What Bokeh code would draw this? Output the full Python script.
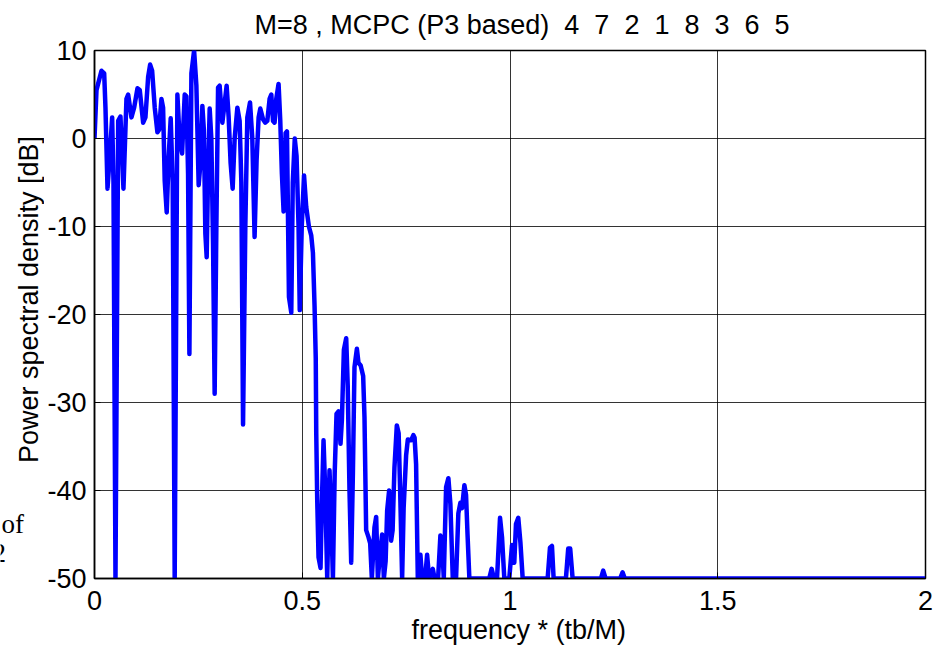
from math import pi

from bokeh.plotting import figure
from bokeh.layouts import row
from bokeh.models import FixedTicker, Range1d, Title
from bokeh.core.properties import value
from bokeh.embed import file_html
from bokeh.resources import INLINE

# Normalised frequency (tb/M) and power spectral density in dB
freq = [0.0, 0.0048, 0.0168, 0.0233, 0.0264, 0.0313, 0.0368, 0.0425, 0.0457, 0.0505,
        0.057, 0.0625, 0.0697, 0.0769, 0.081, 0.0889, 0.0954, 0.1034, 0.1089, 0.1171,
        0.1226, 0.1291, 0.1339, 0.1387, 0.145, 0.1514, 0.1555, 0.1611, 0.1651, 0.169,
        0.1738, 0.1786, 0.1834, 0.1882, 0.193, 0.1995, 0.205, 0.2108, 0.2171, 0.2212,
        0.2252, 0.2284, 0.2332, 0.2397, 0.2452, 0.2507, 0.2555, 0.2596, 0.2632, 0.2668,
        0.27, 0.2733, 0.2772, 0.2812, 0.2853, 0.2892, 0.2933, 0.2974, 0.3012, 0.3077,
        0.3132, 0.318, 0.3228, 0.3276, 0.3325, 0.3373, 0.3438, 0.3493, 0.3534, 0.3575,
        0.363, 0.3678, 0.3743, 0.3798, 0.3853, 0.3901, 0.395, 0.399, 0.4055, 0.4111,
        0.4159, 0.4214, 0.4255, 0.4296, 0.4334, 0.4375, 0.443, 0.4471, 0.451, 0.4551,
        0.4599, 0.4632, 0.468, 0.4736, 0.4772, 0.482, 0.4863, 0.4911, 0.494, 0.4988,
        0.5043, 0.5096, 0.516, 0.5216, 0.5257, 0.5296, 0.5325, 0.5337, 0.536, 0.5392,
        0.544, 0.5469, 0.5512, 0.5553, 0.5601, 0.5656, 0.5697, 0.5738, 0.5781, 0.5825,
        0.5873, 0.5921, 0.5954, 0.6002, 0.6058, 0.6094, 0.6137, 0.6178, 0.6219, 0.6257,
        0.6315, 0.6354, 0.6406, 0.6466, 0.6498, 0.6538, 0.6594, 0.6635, 0.6675, 0.6738,
        0.6779, 0.682, 0.6875, 0.6923, 0.6964, 0.7007, 0.7043, 0.7091, 0.7139, 0.7175,
        0.7219, 0.7276, 0.732, 0.7356, 0.7404, 0.744, 0.75, 0.7541, 0.762, 0.7675,
        0.7704, 0.774, 0.7781, 0.7844, 0.7885, 0.7957, 0.8005, 0.8053, 0.8101, 0.8142,
        0.8185, 0.8269, 0.8325, 0.8365, 0.8406, 0.8462, 0.8517, 0.8565, 0.8623, 0.8702,
        0.8757, 0.8805, 0.8846, 0.8902, 0.8942, 0.8978, 0.9022, 0.95, 0.9558, 0.9615,
        0.9688, 0.976, 0.9808, 0.9863, 0.9983, 1.0048, 1.0103, 1.0144, 1.0199, 1.0252,
        1.0305, 1.0906, 1.0962, 1.101, 1.105, 1.1346, 1.1401, 1.1449, 1.1507, 1.2188,
        1.2243, 1.23, 1.2651, 1.2709, 1.2764, 2.0]

psd_db = [0.0, 5.5, 7.7, 7.4, 3.5, -5.7, -2.0, 2.4, -5.0, -50.0,
          2.0, 2.5, -5.7, 4.5, 5.0, 2.4, 3.5, 5.7, 5.5, 1.8,
          2.4, 7.0, 8.4, 7.7, 3.5, 0.7, 1.0, 4.5, 3.5, -4.8,
          -8.4, -2.0, 2.3, -5.0, -50.0, 5.0, -0.2, -1.7, 5.0, 4.8,
          -4.0, -24.5, 7.4, 10.0, 6.0, -5.3, -2.5, 3.7, 1.0, -10.8,
          -13.5, -4.0, 3.4, 0.0, -12.0, -29.0, -10.0, 5.8, 6.0, 1.8,
          4.0, 6.0, 2.5, -2.8, -5.7, 0.0, 3.5, 2.0, -5.0, -32.5,
          -10.0, 2.4, 4.1, 0.0, -11.2, -2.5, 2.4, 3.4, 2.2, 1.8,
          2.0, 4.5, 5.0, 2.0, 1.8, 4.5, 6.2, 2.0, -4.0, -8.3,
          0.6, 0.8, -18.0, -19.8, -5.0, 0.0, -2.0, -10.0, -19.5, -10.0,
          -4.2, -7.8, -10.0, -11.0, -13.0, -19.0, -25.0, -33.5, -41.0, -47.6,
          -48.8, -42.0, -34.3, -40.0, -50.0, -37.7, -43.0, -50.0, -38.0, -31.3,
          -31.0, -34.7, -32.0, -24.0, -22.7, -28.0, -40.0, -48.2, -38.0, -26.0,
          -23.9, -25.5, -25.8, -27.0, -31.7, -44.5, -45.3, -46.0, -50.0, -44.2,
          -43.0, -50.0, -47.0, -45.0, -50.0, -48.0, -42.3, -40.0, -45.7, -44.5,
          -37.4, -32.6, -33.5, -40.0, -50.0, -42.0, -36.0, -34.2, -34.3, -33.7,
          -34.0, -37.0, -50.0, -47.3, -50.0, -50.0, -47.3, -50.0, -49.5, -48.9,
          -50.0, -50.0, -45.1, -46.0, -50.0, -39.6, -38.6, -41.5, -50.0, -50.0,
          -42.6, -41.4, -42.0, -39.4, -40.5, -45.0, -50.0, -50.0, -48.9, -50.0,
          -50.0, -43.1, -45.3, -50.0, -50.0, -46.2, -48.2, -43.8, -43.1, -46.0,
          -50.0, -50.0, -46.5, -46.3, -50.0, -50.0, -46.6, -46.6, -50.0, -50.0,
          -49.1, -50.0, -50.0, -49.3, -50.0, -50.0]

x_ticks = [0, 0.5, 1, 1.5, 2]
x_tick_labels = ["0", "0.5", "1", "1.5", "2"]
y_ticks = [-50, -40, -30, -20, -10, 0, 10]
y_tick_labels = ["-50", "-40", "-30", "-20", "-10", "0", "10"]

title_text = "M=8 , MCPC (P3 based)\u00a0\u00a04\u00a0\u00a07\u00a0\u00a02\u00a0\u00a01\u00a0\u00a08\u00a0\u00a03\u00a0\u00a06\u00a0\u00a05"
x_label = "frequency * (tb/M)"
y_label = "Power spectral density [dB]"

FONT = "Liberation Sans"
FS = "27px"
W, H = 941, 654
LEFT_W = 44
TOP, BOTTOM = 50, 76

# ---- narrow strip on the left: y-axis title and stray page text -------------
# Its frame shares the vertical extent of the main frame; y is measured in
# pixels from the bottom of the page.
side = figure(width=LEFT_W, height=H, output_backend="svg", toolbar_location=None,
              x_range=Range1d(0, LEFT_W), y_range=Range1d(BOTTOM, H - TOP),
              x_axis_location=None, y_axis_location=None,
              min_border_left=0, min_border_right=0,
              min_border_top=TOP, min_border_bottom=BOTTOM,
              outline_line_color=None, background_fill_color="white",
              border_fill_color="white")
side.grid.visible = False
side.text(x=[28], y=[355], text=[y_label], angle=pi / 2, text_align="center",
          text_baseline="middle", text_font=value(FONT), text_font_size=FS,
          text_color="black")
side.text(x=[1, -8], y=[131, 102], text=["of", "2"], text_align="left",
          text_baseline="alphabetic", text_font=value("Liberation Serif"),
          text_font_size="27px", text_color="black")

# ---- main spectrum plot ------------------------------------------------------
p = figure(width=W - LEFT_W, height=H, output_backend="svg", toolbar_location=None,
           x_range=Range1d(0, 2), y_range=Range1d(-50, 10),
           min_border_left=93 - LEFT_W, min_border_right=16, min_border_top=TOP,
           min_border_bottom=BOTTOM, background_fill_color="white",
           border_fill_color="white")

p.title.text = title_text
p.title.align = "left"
p.title.offset = 160
p.title.standoff = 18
p.title.vertical_align = "top"
p.title.text_font = FONT
p.title.text_font_size = FS
p.title.text_font_style = "normal"
p.title.text_color = "black"

p.line(freq, psd_db, line_color="#0000FF", line_width=4.5, line_join="round")

for ax in (p.xaxis[0], p.yaxis[0]):
    ax.major_label_text_font = FONT
    ax.major_label_text_font_size = FS
    ax.major_label_text_color = "black"
    ax.axis_line_color = "black"
    ax.axis_line_width = 1.5
    ax.major_tick_in = 6
    ax.major_tick_out = 0
    ax.minor_tick_in = 0
    ax.minor_tick_out = 0
    ax.major_tick_line_color = "black"

p.xaxis.ticker = FixedTicker(ticks=x_ticks)
p.yaxis.ticker = FixedTicker(ticks=y_ticks)
p.xaxis.major_label_overrides = {t: s for t, s in zip(x_ticks, x_tick_labels)}
p.yaxis.major_label_overrides = {t: s for t, s in zip(y_ticks, y_tick_labels)}
p.xaxis.major_label_standoff = 12
p.yaxis.major_label_standoff = 8

# x-axis title, set slightly right of the frame centre
p.add_layout(Title(text=x_label, align="left", offset=317, standoff=0,
                   text_font=FONT, text_font_size=FS, text_font_style="normal",
                   text_color="black"), "below")

p.grid.grid_line_color = "black"
p.grid.grid_line_alpha = 0.8
p.grid.grid_line_width = 1

p.outline_line_color = "black"
p.outline_line_width = 1.5

layout = row(side, p, spacing=0)
open("out.html", "w").write(file_html(layout, INLINE))
